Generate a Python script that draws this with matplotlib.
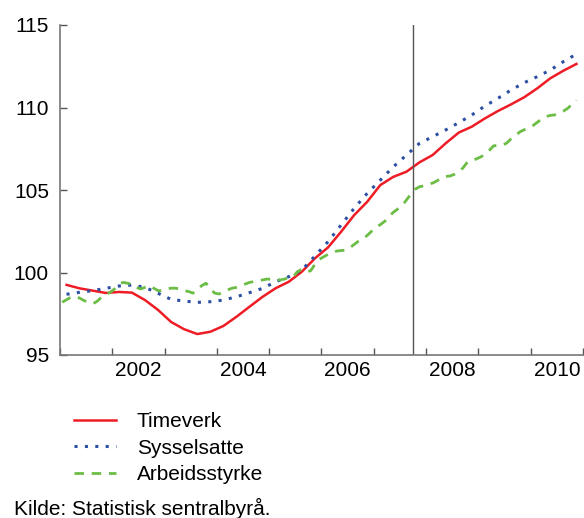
import matplotlib
matplotlib.use("Agg")
import matplotlib.pyplot as plt
import numpy as np

plt.rcParams['font.family'] = ['Liberation Sans', 'DejaVu Sans']

# quarterly series, 2001Q1 - 2010Q4
quarters = np.arange(2001, 2011, 0.25) + 0.125
timeverk = [99.25, 99.04, 98.9, 98.76, 98.82, 98.78, 98.33, 97.73,
            97.0, 96.56, 96.27, 96.41, 96.76, 97.32, 97.93, 98.53,
            99.05, 99.44, 100.05, 100.86, 101.52, 102.47, 103.48, 104.29,
            105.3, 105.8, 106.11, 106.68, 107.12, 107.83, 108.48, 108.84,
            109.34, 109.79, 110.19, 110.62, 111.16, 111.77, 112.23, 112.64]
sysselsatte = [98.68, 98.8, 98.9, 99.04, 99.18, 99.24, 99.1, 98.74,
               98.37, 98.27, 98.19, 98.23, 98.33, 98.53, 98.78, 99.04,
               99.44, 99.75, 100.15, 101.0, 101.87, 102.88, 103.89, 104.8,
               105.6, 106.41, 107.12, 107.83, 108.23, 108.64, 109.08, 109.55,
               110.09, 110.56, 111.06, 111.5, 111.87, 112.27, 112.78, 113.24]

# monthly series, Jan 2001 - Nov 2010
months = 2001 + (np.arange(119) + 0.5) / 12
arbeidsstyrke = [98.2, 98.35, 98.5, 98.55, 98.45, 98.3, 98.2, 98.1, 98.25, 98.5,
                 98.65, 98.8, 99.0, 99.3, 99.4, 99.35, 99.3, 99.1, 99.0, 99.1,
                 99.2, 99.05, 98.9, 98.9, 99.0, 99.05, 99.05, 99.0, 98.9, 98.85,
                 98.75, 98.95, 99.2, 99.35, 99.0, 98.75, 98.7, 98.8, 98.95, 99.05,
                 99.1, 99.2, 99.3, 99.4, 99.45, 99.5, 99.55, 99.6, 99.6, 99.55,
                 99.55, 99.6, 99.7, 99.75, 100.05, 100.2, 100.05, 100.1, 100.5, 100.8,
                 100.95, 101.1, 101.2, 101.3, 101.33, 101.35, 101.5, 101.7, 101.9, 102.05,
                 102.25, 102.5, 102.75, 102.9, 103.1, 103.4, 103.65, 103.85, 104.05, 104.4,
                 104.75, 105.05, 105.2, 105.25, 105.35, 105.42, 105.55, 105.75, 105.82, 105.85,
                 105.95, 106.1, 106.35, 106.7, 106.8, 106.88, 107.0, 107.15, 107.4, 107.68,
                 107.7, 107.7, 107.85, 108.1, 108.3, 108.52, 108.65, 108.75, 108.9, 109.1,
                 109.3, 109.45, 109.52, 109.55, 109.65, 109.78, 109.95, 110.2, 110.45]

year_ticks = np.arange(2001, 2012)
label_pos = [2002.5, 2004.5, 2006.5, 2008.5, 2010.5]
label_txt = ['2002', '2004', '2006', '2008', '2010']
cut = 2007.75

fig = plt.figure(figsize=(5.84, 5.18), dpi=100)
ax = fig.add_axes([60 / 584, 1 - 355 / 518, 1 - 61 / 584, 330 / 518])

ax.plot(quarters, timeverk, color='#ee1c25', lw=1.8, label='Timeverk')
ax.plot(quarters, sysselsatte, color='#2b4fa3', lw=2.2, dashes=(1, 2.4),
        label='Sysselsatte')
ax.plot(months, arbeidsstyrke, color='#6cbd45', lw=2.0, dashes=(3.4, 2.8),
        label='Arbeidsstyrke')
ax.axvline(cut, color='#555555', lw=1.0)

ax.set_xlim(2001, 2011)
ax.set_ylim(95, 115)
ax.set_yticks([95, 100, 105, 110, 115])
ax.set_xticks(year_ticks)
ax.set_xticklabels([])
ax.set_xticks(label_pos, minor=True)
ax.set_xticklabels(label_txt, minor=True)
ax.tick_params(axis='x', which='major', direction='in', length=5, width=1,
               color='#555555')
ax.tick_params(axis='x', which='minor', length=0, labelsize=15, pad=4)
ax.tick_params(axis='y', direction='in', length=5, width=1, color='#555555',
               labelsize=15, pad=8)

for s in ['top', 'right']:
    ax.spines[s].set_visible(False)
for s in ['left', 'bottom']:
    ax.spines[s].set_color('#777777')
    ax.spines[s].set_linewidth(1.2)

fig.legend(loc='upper left', bbox_to_anchor=(64 / 584, 1 - 402 / 518),
           frameon=False, fontsize=15, handlelength=2.0, handletextpad=1.0,
           labelspacing=0.35, borderpad=0)

fig.text(14 / 584, 1 - 508 / 518, 'Kilde: Statistisk sentralbyrå.',
         fontsize=15, va='center', ha='left')

fig.savefig('out.png', dpi=100)
